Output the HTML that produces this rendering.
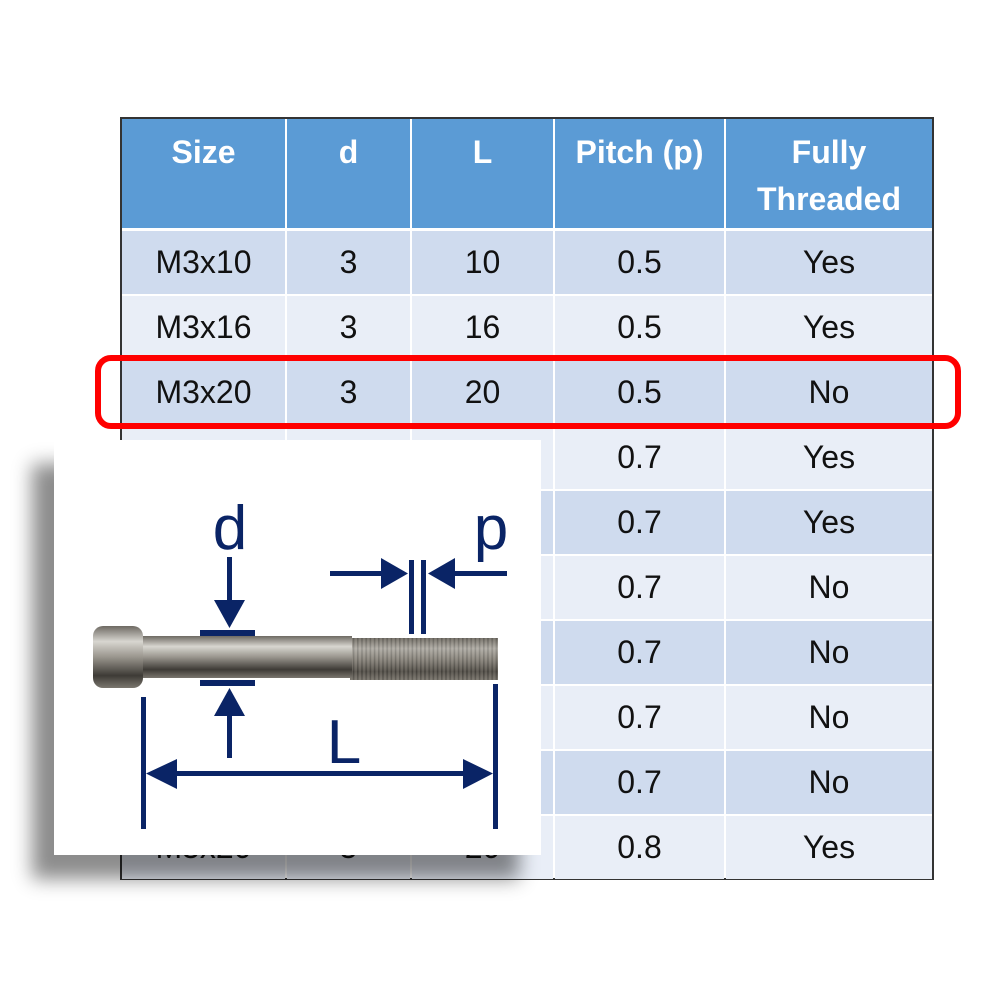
<!DOCTYPE html>
<html><head><meta charset="utf-8"><style>
body{margin:0;width:1000px;height:1000px;background:#fff;position:relative;overflow:hidden;font-family:"Liberation Sans",sans-serif}
.tbl{position:absolute;left:120px;top:117px;width:810px;height:759px;border:2px solid #333;background:#fff}
.c{position:absolute;display:flex;align-items:center;justify-content:center;font-size:32px;color:#111;text-align:center}
.h{background:#5b9bd5;color:#fff;font-weight:bold;align-items:flex-start;padding-top:10px;box-sizing:border-box;line-height:47px}
.red{position:absolute;left:95px;top:355px;width:854px;height:62px;border:6px solid #f00;border-radius:16px}
.ov{position:absolute;left:54px;top:440px;width:487px;height:415px;background:#fff;box-shadow:-22px 24px 18px rgba(0,0,0,0.45)}
</style></head><body>
<div class="tbl" id="t"></div>
<script>
var t=document.getElementById('t');
var cols=[0,163,288,431,602,810];
var hd=['Size','d','L','Pitch (p)','Fully<br>Threaded'];
var rows=[['M3x10','3','10','0.5','Yes'],['M3x16','3','16','0.5','Yes'],['M3x20','3','20','0.5','No'],['M4x10','4','10','0.7','Yes'],['M4x16','4','16','0.7','Yes'],['M4x20','4','20','0.7','No'],['M4x25','4','25','0.7','No'],['M4x30','4','30','0.7','No'],['M4x35','4','35','0.7','No'],['M5x20','5','20','0.8','Yes']];
var h='';
for(var i=0;i<5;i++){h+='<div class="c h" style="left:'+(cols[i]+(i?2:0))+'px;top:0;width:'+(cols[i+1]-cols[i]-(i?2:0))+'px;height:109px">'+hd[i]+'</div>';}
for(var r=0;r<10;r++){var y=112+r*65;var bg=r%2==0?'#cfdbee':'#e9eef7';
for(var i=0;i<5;i++){h+='<div class="c" style="background:'+bg+';left:'+(cols[i]+(i?2:0))+'px;top:'+y+'px;width:'+(cols[i+1]-cols[i]-(i?2:0))+'px;height:63px">'+rows[r][i]+'</div>';}}
t.innerHTML=h;
</script>
<div class="red"></div>
<div class="ov"></div>
<svg style="position:absolute;left:0;top:0" width="1000" height="1000">
<defs>
<linearGradient id="g" x1="0" y1="0" x2="0" y2="1">
<stop offset="0" stop-color="#6e6a63"/><stop offset="0.25" stop-color="#d8d6d0"/><stop offset="0.5" stop-color="#9a968e"/><stop offset="0.8" stop-color="#3e3b36"/><stop offset="1" stop-color="#7a766e"/></linearGradient>
<pattern id="th" width="4.2" height="10" patternUnits="userSpaceOnUse"><rect width="4.2" height="10" fill="#8a857c"/><rect width="1.6" height="10" fill="#4d4a44"/></pattern>
</defs>
<rect x="350" y="638" width="148" height="42" fill="url(#g)"/>
<rect x="350" y="638" width="148" height="42" fill="url(#th)" opacity="0.45"/>
<rect x="140" y="636" width="212" height="42" fill="url(#g)"/>
<rect x="93" y="626" width="50" height="62" rx="10" fill="url(#g)"/>
<g fill="#0a2466" stroke="none">
<rect x="200" y="630" width="55" height="6"/><rect x="200" y="680" width="55" height="6"/>
<rect x="227" y="557" width="5" height="50"/><polygon points="214,600 245,600 229.5,628"/>
<rect x="227" y="710" width="5" height="48"/><polygon points="214,716 245,716 229.5,688"/>
<rect x="409" y="560" width="5" height="74"/><rect x="421" y="560" width="5" height="74"/>
<rect x="330" y="571" width="55" height="5"/><polygon points="381,558 381,589 408,573.5"/>
<rect x="455" y="571" width="52" height="5"/><polygon points="455,558 455,589 428,573.5"/>
<rect x="141" y="697" width="5" height="132"/><rect x="493" y="684" width="5" height="145"/>
<rect x="170" y="771" width="300" height="5"/><polygon points="146,773.5 177,759 177,789"/><polygon points="493,773.5 463,759 463,789"/>
</g>
<g fill="#0a2466" font-family="Liberation Sans,sans-serif" font-size="62" text-anchor="middle">
<text x="230" y="549">d</text><text x="491" y="549">p</text><text x="344" y="763">L</text>
</g>
</svg>
</body></html>
